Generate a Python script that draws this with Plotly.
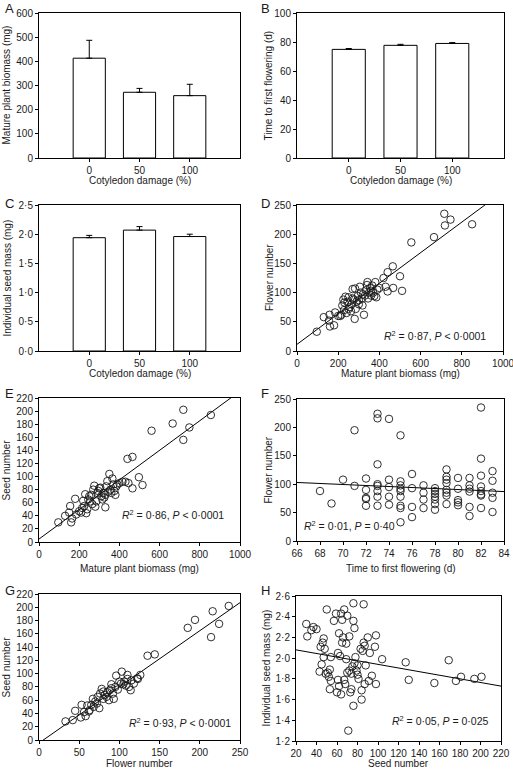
import plotly.graph_objects as go
import numpy as np

W, H = 513, 770

# ---------------- data ----------------
damage_cats = ["0", "50", "100"]
biomass_mean = [413, 272, 258]
biomass_err = [74, 16, 47]
flowering_mean = [74.9, 77.7, 79.0]
flowering_err = [0.6, 0.7, 0.6]
seedmass_mean = [1.94, 2.07, 1.96]
seedmass_err = [0.04, 0.06, 0.04]

# D: biomass vs flower number
d_biomass = [96, 130, 158, 160, 155, 180, 185, 200, 215, 220, 225, 228, 235, 240, 245, 250,
             255, 262, 265, 270, 275, 280, 282, 285, 290, 295, 300, 305, 310, 315, 318, 325,
             330, 335, 340, 342, 345, 350, 355, 360, 365, 370, 375, 380, 385, 390, 400, 420,
             430, 440, 440, 465, 467, 500, 510, 555, 665, 715, 718, 745, 850, 210, 250, 300,
             320, 360, 230, 270]
d_flowers = [33, 58, 62, 42, 52, 44, 66, 60, 62, 78, 88, 70, 93, 65, 84, 92,
             75, 68, 80, 106, 88, 55, 107, 72, 85, 94, 80, 110, 100, 90, 78, 62,
             95, 104, 113, 118, 90, 100, 108, 95, 112, 100, 94, 118, 92, 105, 108, 125,
             110, 135, 102, 145, 108, 128, 103, 186, 195, 235, 215, 225, 217, 60, 72, 87,
             97, 103, 83, 90]
d_fit = [11.4, 0.2616]  # intercept, slope

# E: biomass vs seed number
e_biomass = [96, 160, 155, 130, 150, 165, 180, 185, 200, 210, 220, 225, 230, 235, 240, 245,
             250, 255, 260, 270, 275, 280, 285, 290, 300, 305, 310, 315, 320, 325, 330, 335,
             340, 345, 350, 355, 360, 365, 370, 375, 385, 390, 400, 415, 430, 440, 445, 465,
             465, 497, 515, 560, 665, 718, 718, 748, 855, 215, 265, 295, 330, 380]
e_seeds = [30, 30, 55, 40, 45, 36, 66, 42, 47, 45, 63, 55, 73, 44, 50, 65,
           70, 62, 72, 80, 86, 54, 62, 75, 82, 83, 70, 65, 75, 68, 53, 85,
           93, 77, 104, 80, 75, 97, 88, 78, 85, 88, 90, 92, 92, 127, 90, 130,
           82, 99, 87, 170, 181, 202, 156, 175, 194, 52, 58, 78, 72, 72]
e_fit = [4.5, 0.226]

# F: time to first flowering vs flower number
f_days = ([68, 69, 70] + [71] * 2 + [72] * 5 + [73] * 8 + [74] * 5 + [75] * 9 + [76] * 4 +
          [77] * 4 + [78] * 7 + [79] * 8 + [80] * 5 + [81] * 6 + [82] * 8 + [83] * 5)
f_flowers = [88, 66, 108,
             195, 97,
             110, 90, 76, 74, 62,
             224, 216, 135, 100, 97, 88, 78, 62,
             215, 108, 95, 78, 64,
             186, 105, 98, 92, 88, 78, 62, 58, 33,
             118, 93, 60, 42,
             98, 85, 73, 58,
             93, 88, 83, 78, 73, 65, 55,
             126, 113, 108, 102, 90, 85, 80, 65,
             111, 92, 72, 68, 63,
             111, 98, 92, 87, 60, 44,
             235, 145, 115, 96, 88, 82, 80, 58,
             123, 106, 85, 76, 51]
f_fit = [161.7, -0.889]

# G: flower number vs seed number
g_flowers = [33, 42, 45, 52, 53, 56, 58, 60, 63, 65, 67, 70, 72, 73, 75, 76, 78, 80, 82, 84,
             85, 87, 88, 90, 92, 93, 95, 96, 98, 100, 102, 103, 105, 108, 110, 110, 112, 114,
             115, 118, 122, 123, 126, 135, 144, 185, 194, 214, 216, 224, 236, 62, 68, 80, 90, 106]
g_seeds = [28, 30, 44, 34, 53, 42, 36, 52, 45, 53, 62, 58, 55, 65, 48, 70, 77, 62, 68, 65,
           72, 60, 75, 84, 70, 62, 80, 97, 76, 88, 85, 103, 84, 82, 92, 98, 80, 75,
           90, 85, 93, 92, 98, 127, 129, 169, 181, 155, 194, 175, 202, 43, 50, 73, 78, 88]
g_fit = [-4.5, 0.846]

# H: seed number vs individual seed mass
h_seeds = [30, 31, 35, 37, 40, 43, 44, 45, 46, 47, 47, 48, 49, 50, 51, 52, 53, 53, 54, 54,
           57, 59, 60, 61, 61, 62, 62, 63, 64, 64, 65, 65, 66, 67, 67, 68, 69, 69, 70, 70,
           71, 72, 72, 73, 74, 74, 75, 76, 76, 76, 77, 77, 78, 79, 80, 80, 81, 83, 84, 84,
           85, 86, 86, 87, 87, 88, 90, 91, 92, 94, 97, 98, 98, 104, 127, 130, 155, 169, 176,
           181, 194, 201]
h_mass = [2.33, 2.21, 2.27, 2.30, 2.28, 1.87, 2.11, 1.94, 2.15, 2.19, 2.01, 2.09, 1.85, 2.47,
          1.86, 1.82, 1.70, 1.89, 2.01, 1.78, 2.36, 2.43, 1.67, 2.05, 1.79, 2.24, 1.73, 2.02,
          1.65, 2.43, 2.15, 2.37, 2.20, 2.47, 1.79, 1.75, 2.14, 1.99, 2.41, 1.86, 1.30, 2.21,
          1.88, 1.67, 1.70, 1.85, 1.92, 2.53, 2.36, 1.54, 2.29, 1.95, 2.01, 1.88, 1.84, 1.93,
          1.80, 2.09, 1.69, 1.60, 2.07, 2.52, 2.15, 2.12, 1.75, 1.93, 2.20, 1.78, 2.05, 1.83,
          2.11, 2.22, 1.75, 1.99, 1.96, 1.79, 1.76, 1.98, 1.78, 1.82, 1.80, 1.82]
h_fit = [2.115, -0.00175]

xtitles = ["Cotyledon damage (%)", "Cotyledon damage (%)", "Cotyledon damage (%)",
           "Mature plant biomass (mg)", "Mature plant biomass (mg)",
           "Time to first flowering (d)", "Flower number", "Seed number"]
ytitles = ["Mature plant biomass (mg)", "Time to first flowering (d)",
           "Individual seed mass (mg)", "Flower number", "Seed number",
           "Flower number", "Seed number", "Individual seed mass (mg)"]
panel_letters = ["A", "B", "C", "D", "E", "F", "G", "H"]

# ---------------- layout helpers ----------------
FONT = "Liberation Sans, Arial, sans-serif"
TXT = "#1a1a1a"
FS = 10
TICKF = dict(family=FONT, size=FS, color=TXT)

# panel boxes in pixels: (left, right, top, bottom)
boxes = [(39, 240, 13, 158), (297, 504, 13, 158),
         (39, 240, 205, 351), (297, 503, 205, 351),
         (39, 240, 398, 542), (297, 504, 399, 541),
         (39, 240, 594, 740), (296, 501, 596, 741)]
xtitle_y = [180.5, 180.5, 373.5, 373.5, 568.5, 568.5, 763.5, 763.5]
ytitle_x = [6, 268, 6.5, 269, 5.5, 267.5, 5.5, 266]
letter_xy = [(3, 8), (259, 8), (3, 203), (259, 203), (3, 394), (259, 394), (3, 590), (259, 590)]

yranges = [[0, 600], [0, 100], [0, 2.5], [0, 250], [0, 220], [0, 250], [0, 220], [1.2, 2.6]]
ydticks = [100, 20, 0.5, 50, 20, 50, 20, 0.2]
xranges = [None, None, None, [0, 1000], [0, 1000], [66, 84], [0, 250], [20, 220]]
xdticks = [None, None, None, 200, 200, 2, 50, 20]


def dot(v, nd):
    return f"{v:.{nd}f}".replace(".", "·")


def axis_common():
    return dict(showline=True, linecolor="black", linewidth=1, mirror=True,
                ticks="outside", ticklen=3, tickwidth=1, tickcolor="black",
                showgrid=False, zeroline=False, tickfont=TICKF, automargin=False,
                ticklabeloverflow="allow", fixedrange=True)


fig = go.Figure()
layout = dict(width=W, height=H, margin=dict(l=0, r=0, t=0, b=0),
              paper_bgcolor="white", plot_bgcolor="white", showlegend=False,
              font=dict(family=FONT, color=TXT), hovermode=False)
ann = []

for k in range(8):
    i = k + 1
    sfx = "" if i == 1 else str(i)
    l, r, t, b = boxes[k]
    xa = axis_common()
    ya = axis_common()
    xa.update(domain=[l / W, r / W], anchor="y" + sfx)
    ya.update(domain=[1 - b / H, 1 - t / H], anchor="x" + sfx, range=yranges[k])
    lo, hi = yranges[k]
    step = ydticks[k]
    vals = list(np.round(np.arange(lo, hi + step / 2, step), 6))
    if i in (3, 8):
        ya.update(tickmode="array", tickvals=vals, ticktext=[dot(v, 1) for v in vals])
    else:
        ya.update(tickmode="array", tickvals=vals, ticktext=[str(int(v)) for v in vals])
    if i <= 3:
        xa.update(type="category", range=[-1, 3])
    else:
        lo, hi = xranges[k]
        step = xdticks[k]
        xv = list(np.arange(lo, hi + step / 2, step))
        xa.update(range=[lo, hi], tickmode="array", tickvals=xv,
                  ticktext=[str(int(v)) for v in xv])
    layout["xaxis" + sfx] = xa
    layout["yaxis" + sfx] = ya

    # axis titles as annotations
    ann.append(dict(text=xtitles[k], x=(l + r) / 2 / W, y=1 - xtitle_y[k] / H,
                    xref="paper", yref="paper", xanchor="center", yanchor="middle",
                    showarrow=False, font=dict(family=FONT, size=FS, color=TXT)))
    ann.append(dict(text=ytitles[k], x=ytitle_x[k] / W, y=1 - (t + b) / 2 / H,
                    xref="paper", yref="paper", xanchor="center", yanchor="middle",
                    textangle=-90, showarrow=False,
                    font=dict(family=FONT, size=FS, color=TXT)))
    px, py = letter_xy[k]
    ann.append(dict(text=panel_letters[k], x=px / W, y=1 - py / H, xref="paper", yref="paper",
                    xanchor="left", yanchor="middle", showarrow=False,
                    font=dict(family=FONT, size=13, color=TXT)))

# ---------------- bars ----------------
for i, (m, e) in enumerate([(biomass_mean, biomass_err), (flowering_mean, flowering_err),
                            (seedmass_mean, seedmass_err)], start=1):
    sfx = "" if i == 1 else str(i)
    fig.add_trace(go.Bar(x=damage_cats, y=m, width=0.64, xaxis="x" + sfx, yaxis="y" + sfx,
                         marker=dict(color="white", line=dict(color="black", width=1)),
                         error_y=dict(type="data", symmetric=False, array=e,
                                      arrayminus=[0] * len(e), color="black",
                                      thickness=1, width=3)))

# ---------------- scatters ----------------
scat = [(4, d_biomass, d_flowers, d_fit, [0, 1000]),
        (5, e_biomass, e_seeds, e_fit, [0, 1000]),
        (6, f_days, f_flowers, f_fit, [66, 84]),
        (7, g_flowers, g_seeds, g_fit, [0, 250]),
        (8, h_seeds, h_mass, h_fit, [20, 220])]
for i, xs, ys, fit, xr in scat:
    sfx = str(i)
    xl = np.array(xr, dtype=float)
    fig.add_trace(go.Scatter(x=xl, y=fit[0] + fit[1] * xl, mode="lines",
                             line=dict(color="black", width=1),
                             xaxis="x" + sfx, yaxis="y" + sfx))
    fig.add_trace(go.Scatter(x=xs, y=ys, mode="markers", xaxis="x" + sfx, yaxis="y" + sfx,
                             marker=dict(symbol="circle-open", size=7.5, color="#1a1a1a",
                                         line=dict(width=0.9)),
                             cliponaxis=False))

# ---------------- statistics text ----------------
stats = [(4, "<i>R</i><sup>2</sup> = 0·87, <i>P</i> &lt; 0·0001", 0.928, 0.103, "right"),
         (5, "<i>R</i><sup>2</sup> = 0·86, <i>P</i> &lt; 0·0001", 0.93, 0.193, "right"),
         (6, "<i>R</i><sup>2</sup> = 0·01, <i>P</i> = 0·40", 0.024, 0.106, "left"),
         (7, "<i>R</i><sup>2</sup> = 0·93, <i>P</i> &lt; 0·0001", 0.965, 0.117, "right"),
         (8, "<i>R</i><sup>2</sup> = 0·05, <i>P</i> = 0·025", 0.951, 0.143, "right")]
for i, t, fx, fy, anc in stats:
    ann.append(dict(text=t, x=fx, y=fy, xref=f"x{i} domain", yref=f"y{i} domain",
                    xanchor=anc, yanchor="middle", showarrow=False,
                    font=dict(family=FONT, size=10.5, color=TXT)))
layout["annotations"] = ann

fig.update_layout(**layout)
fig.write_html("out.html", config={"displayModeBar": False, "staticPlot": True},
               post_script="document.body.style.margin='0';document.body.style.padding='0';")
